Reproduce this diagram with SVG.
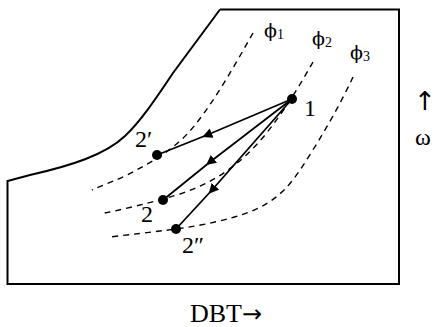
<svg xmlns="http://www.w3.org/2000/svg" width="437" height="327" viewBox="0 0 437 327">
<style>
.frame{fill:none;stroke:#000;stroke-width:2}
.dash{fill:none;stroke:#000;stroke-width:1.4;stroke-dasharray:6,5}
.proc{fill:none;stroke:#000;stroke-width:1.8}
.t{font-family:"Liberation Serif","Times New Roman",serif;fill:#000}
.ph{font-family:"DejaVu Serif",serif}
.ar{font-family:"DejaVu Sans",sans-serif;fill:#000}
</style>
<defs>
<marker id="ah" viewBox="0 0 10 10" refX="5" refY="5" markerWidth="10" markerHeight="10" markerUnits="userSpaceOnUse" orient="auto">
<path d="M0,0 L10,5 L0,10 Z" fill="#000"/>
</marker>
</defs>
<g id="chart">
<path class="frame" d="M220,9.5 H399 V284 H7.5 V181 L30,175 C70,166 105,155 125,136 C140,122 155,100 173,73 L220,9.5"/>
</g>
<g id="curves">
<path class="dash" d="M253,33 C235,65 215,100 195,125 C175,150 150,163 125,176 C110,183 100,186 92,190"/>
<path class="dash" d="M313,62 C300,85 285,110 265,135 C240,165 215,182 180,194 C150,203 125,209 100,214"/>
<path class="dash" d="M353,77 C340,105 320,140 300,170 C280,200 260,212 215,222 C185,229 150,232 110,237"/>
</g>
<g id="connectors">
<polyline class="proc" points="292,99 207,135 157,155" marker-mid="url(#ah)"/>
<polyline class="proc" points="292,99 210,162 163,200" marker-mid="url(#ah)"/>
<polyline class="proc" points="292,99 212,190 176,229" marker-mid="url(#ah)"/>
</g>
<g id="n1"><circle cx="292" cy="99" r="5"/><text class="t" x="304" y="116" font-size="24">1</text></g>
<g id="n2p"><circle cx="157" cy="155" r="5"/><text class="t" x="135" y="147" font-size="24">2′</text></g>
<g id="n2"><circle cx="163" cy="200" r="5"/><text class="t" x="141" y="222" font-size="24">2</text></g>
<g id="n2pp"><circle cx="176" cy="229" r="5"/><text class="t" x="182" y="253" font-size="24">2″</text></g>
<g id="labels">
<text class="t" x="264" y="37" font-size="19"><tspan class="ph">ϕ</tspan><tspan font-size="14" dy="2">1</tspan></text>
<text class="t" x="312" y="45" font-size="19"><tspan class="ph">ϕ</tspan><tspan font-size="14" dy="2">2</tspan></text>
<text class="t" x="350" y="59" font-size="19"><tspan class="ph">ϕ</tspan><tspan font-size="14" dy="2">3</tspan></text>
<text class="ar" x="425" y="110" font-size="26" text-anchor="middle">↑</text>
<text class="t" x="423" y="145" font-size="24" text-anchor="middle">ω</text>
<text class="t" x="190" y="322" font-size="26">DBT<tspan class="ar" font-size="24">→</tspan></text>
</g>
</svg>
